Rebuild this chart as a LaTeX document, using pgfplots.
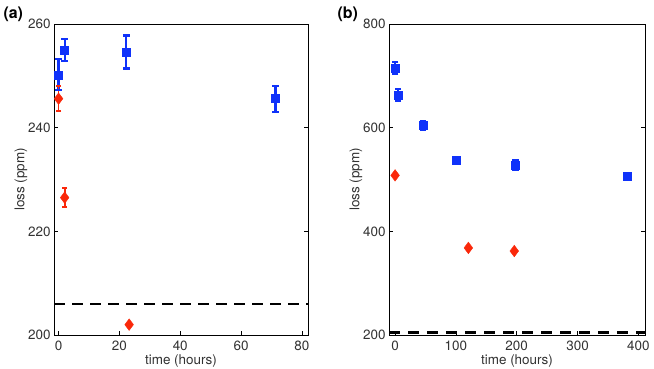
\documentclass[border=0pt]{standalone}
\usepackage{fontspec}
\setmainfont{TeX Gyre Heros}
\usepackage{pgfplots}
\pgfplotsset{compat=1.18}
\definecolor{myblue}{RGB}{15,50,250}
\definecolor{myred}{RGB}{250,40,10}
\definecolor{ticktext}{RGB}{50,50,50}
\pgfplotsset{
  panel/.style={
    scale only axis,
    axis lines=box,
    axis line style={black, line width=0.8pt},
    tick align=inside,
    major tick length=4bp,
    tick style={black, line width=0.6pt},
    xtick pos=bottom, ytick pos=both,
    every tick label/.append style={font=\fontsize{13.5}{15}\selectfont, text=ticktext},
    xticklabel style={anchor=base, yshift=-15.5bp, inner sep=0pt},
    label style={font=\fontsize{13.5}{15}\selectfont, text=ticktext},
    /pgf/number format/assume math mode=true,
    xlabel={time (hours)},
    ylabel={loss (ppm)},
    xlabel style={at={(axis description cs:0.5,0)}, anchor=base, yshift=-29.5bp, inner sep=0pt},
    ylabel style={yshift=-6bp},
    clip=false,
  },
  blues/.style={only marks, mark=square*, mark size=4bp,
    mark options={fill=myblue, draw=myblue},
    error bars/.cd, y dir=both, y explicit, error mark=none,
    error bar style={draw=myblue, line width=2.2bp}},
  reds/.style={only marks, mark=diamond*, mark size=5.8bp,
    mark options={fill=myred, draw=myred},
    error bars/.cd, y dir=both, y explicit, error mark=none,
    error bar style={draw=myred, line width=1.8bp}},
  bcap/.style={only marks, mark=-, mark size=3.2bp, mark options={draw=myblue, line width=2.2bp}},
  rcap/.style={only marks, mark=-, mark size=2.6bp, mark options={draw=myred, line width=1.8bp}},
}
\begin{document}
\begin{tikzpicture}[x=1bp,y=1bp]
\path (0,0) rectangle (654,368);
\node[anchor=west, font=\bfseries\fontsize{16}{18}\selectfont] at (0,354) {(a)};
\node[anchor=west, font=\bfseries\fontsize{16}{18}\selectfont] at (334,354) {(b)};
\begin{axis}[panel,
  at={(54bp,33bp)}, anchor=south west,
  width=254bp, height=311bp,
  xmin=-1.5, xmax=82, ymin=200, ymax=260,
  xtick={0,20,40,60,80}, ytick={200,220,240,260},
]
\addplot[black, line width=2.6pt, dash pattern=on 11bp off 7bp] coordinates {(-1.5,206) (82,206)};
% blue squares: (x, y) +- error
\addplot[blues] coordinates {
(0,250.2) +- (0,3.0)
(2,255.0) +- (0,2.1)
(22.3,254.6) +- (0,3.2)
(71.3,245.6) +- (0,2.5)
};
% caps at y +- error
\addplot[bcap] coordinates {
(0,253.2) (0,247.2) (2,257.1) (2,252.9) (22.3,257.8) (22.3,251.4) (71.3,248.1) (71.3,243.1)
};
\addplot[reds] coordinates {
(0,245.6) +- (0,2.4)
(2,226.5) +- (0,1.8)
(23.2,202.0) +- (0,0.5)
};
\addplot[rcap] coordinates {
(0,248.0) (0,243.2) (2,228.3) (2,224.7)
};
\end{axis}
\begin{axis}[panel,
  at={(389bp,33bp)}, anchor=south west,
  width=256bp, height=311bp,
  xmin=-10, xmax=411, ymin=200, ymax=800,
  xtick={0,100,200,300,400}, ytick={200,400,600,800},
]
\addplot[black, line width=2.6pt, dash pattern=on 11bp off 8bp] coordinates {(-10,205) (411,205)};
\addplot[blues] coordinates {
(0,715) +- (0,11)
(4.5,663) +- (0,11)
(45.5,604) +- (0,9)
(101,538) +- (0,4)
(198,528) +- (0,9)
(381,507) +- (0,5)
};
\addplot[bcap] coordinates {
(0,726) (0,704) (4.5,674) (4.5,652) (45.5,613) (45.5,595) (198,537) (198,519)
};
\addplot[reds] coordinates {
(0,508) +- (0,3)
(120.5,368) +- (0,3)
(196,362) +- (0,3)
};
\end{axis}
\end{tikzpicture}
\end{document}
